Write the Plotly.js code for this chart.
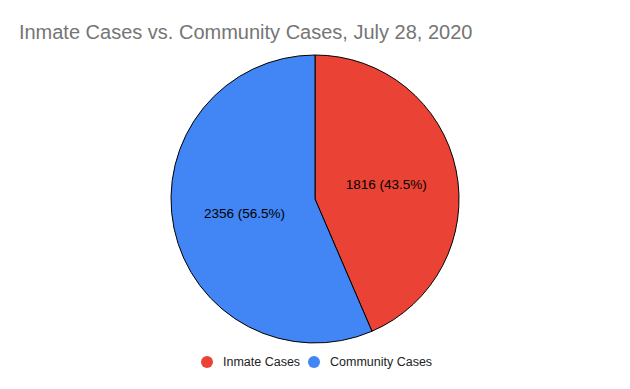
<!DOCTYPE html>
<html><head><meta charset="utf-8">
<script src="https://cdn.plot.ly/plotly-3.0.1.min.js"></script>
<style>html,body{margin:0;padding:0;background:#fff}#c{width:630px;height:389px}</style>
</head><body><div id="c"></div>
<script>
const labels = ["Inmate Cases", "Community Cases"];
const values = [1816, 2356];
const colors = ["#EA4335", "#4285F4"];

const W = 630, H = 389, M = {l: 0, r: 0, t: 55, b: 46};
const px = x => (x - M.l) / (W - M.l - M.r);
const py = y => (H - M.b - y) / (H - M.t - M.b);

const traces = [{
  type: "pie",
  labels: labels,
  values: values,
  sort: false,
  direction: "clockwise",
  rotation: 0,
  marker: {colors: colors, line: {color: "#000", width: 1}},
  texttemplate: "%{value} (%{percent:.1%})",
  textposition: "inside",
  insidetextorientation: "horizontal",
  textfont: {family: "Liberation Sans, Arial, sans-serif", size: 13.5, color: "#000"},
  showlegend: false,
  hoverinfo: "label+value+percent"
}];

// custom legend (circle + label)
const legX = [207, 314], legY = 362, r = 6;
const shapes = labels.map((l, i) => ({
  type: "circle", xref: "paper", yref: "paper",
  x0: px(legX[i] - r), x1: px(legX[i] + r), y0: py(legY + r), y1: py(legY - r),
  fillcolor: colors[i], line: {width: 0}
}));
const annotations = labels.map((l, i) => ({
  text: l, xref: "paper", yref: "paper", x: px(legX[i] + 14), y: py(legY),
  xanchor: "left", yanchor: "middle", showarrow: false,
  font: {family: "Liberation Sans, Arial, sans-serif", size: 12.5, color: "#222"}
}));

const layout = {
  width: W, height: H, margin: M,
  paper_bgcolor: "#fff", plot_bgcolor: "#fff",
  title: {text: "Inmate Cases vs. Community Cases, July 28, 2020", x: 0.03, xanchor: "left", y: 0.918, yanchor: "middle",
    font: {family: "Liberation Sans, Arial, sans-serif", size: 20, color: "#757575"}},
  showlegend: false,
  shapes: shapes, annotations: annotations
};
Plotly.newPlot("c", traces, layout, {displayModeBar: false});
</script></body></html>
